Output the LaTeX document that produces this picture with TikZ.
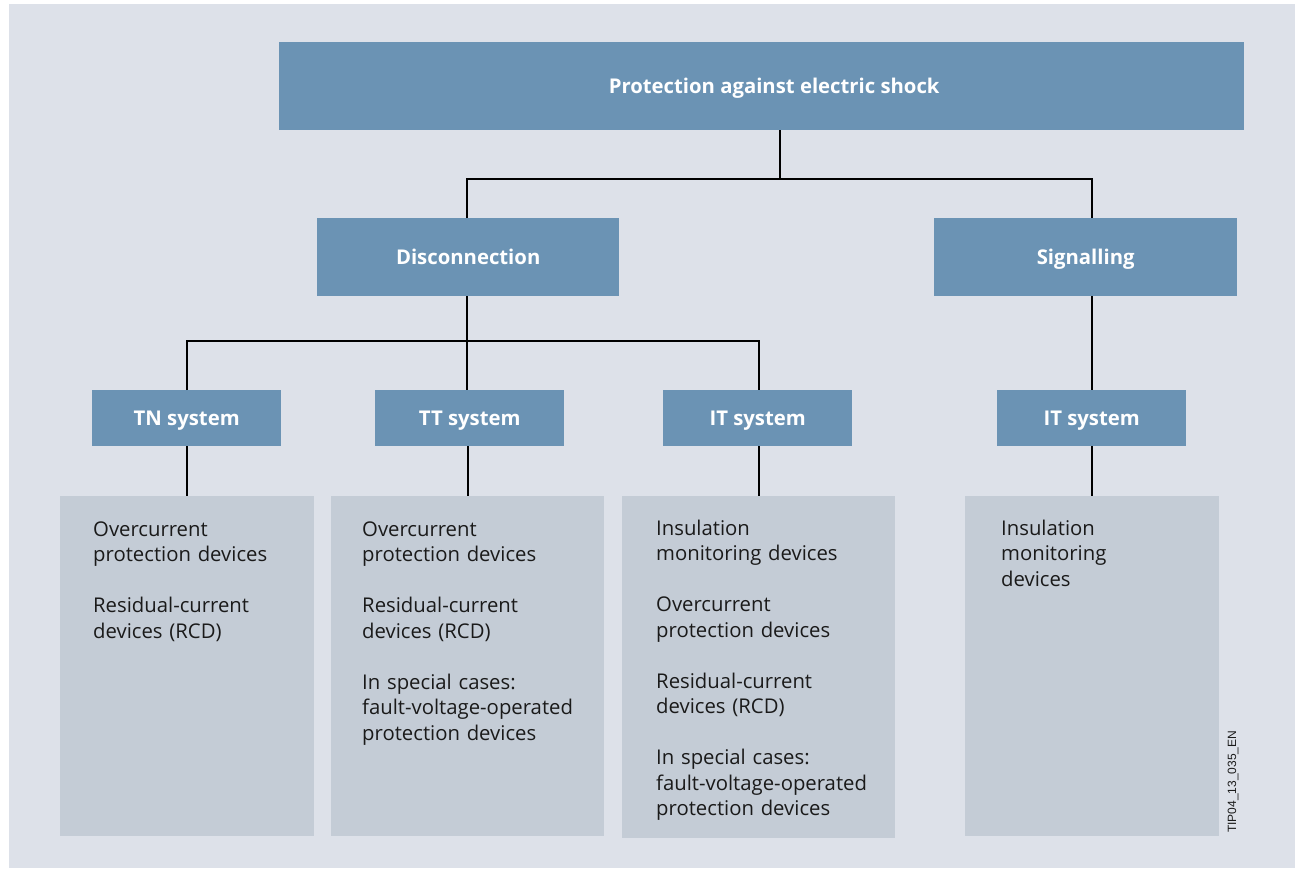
\documentclass[tikz,border=0pt]{standalone}
\usepackage{fontspec}
\setmainfont{Open Sans}
\newfontfamily\tagfont{Liberation Sans}
\definecolor{bg}{RGB}{221,225,233}
\definecolor{hboxc}{RGB}{107,147,180}
\definecolor{cboxc}{RGB}{196,204,214}
\definecolor{txt}{RGB}{26,26,26}
\begin{document}
\begin{tikzpicture}[x=1pt,y=-1pt,
  hdrfont/.style={text=white, font=\bfseries\fontsize{20.3}{24}\selectfont, text height=16pt, text depth=2pt},
  hdr/.style={fill=hboxc, draw=none, inner sep=0, anchor=north west, hdrfont},
  cbox/.style={fill=cboxc, draw=none, inner sep=0, anchor=north west},
  body/.style={anchor=base west, inner sep=0, text width=250pt, align=left, text=txt, font=\fontsize{20.3}{25.5}\selectfont},
  conn/.style={draw=black, line width=1.6pt}]
\useasboundingbox (0,0) rectangle (1295,868);
\fill[white] (0,0) rectangle (1295,868);
\fill[bg] (9,4) rectangle (1295,868);

% header boxes
\node[hdr, minimum width=965pt, minimum height=88pt,
  label={[hdrfont, inner sep=0, xshift=12.5pt]center:Protection against electric shock}] (top) at (279,42) {};
\node[hdr, minimum width=302pt, minimum height=78pt] (disc) at (317,218) {Disconnection};
\node[hdr, minimum width=303pt, minimum height=78pt] (sig) at (934,218) {Signalling};
\node[hdr, minimum width=189pt, minimum height=56pt] (tn) at (92,390) {TN system};
\node[hdr, minimum width=189pt, minimum height=56pt] (tt) at (375,390) {TT system};
\node[hdr, minimum width=189pt, minimum height=56pt] (it) at (663,390) {IT system};
\node[hdr, minimum width=189pt, minimum height=56pt] (it2) at (997,390) {IT system};

% content boxes
\node[cbox, minimum width=254pt, minimum height=340pt] (tnc) at (60,496) {};
\node[cbox, minimum width=273pt, minimum height=340pt] (ttc) at (331,496) {};
\node[cbox, minimum width=273pt, minimum height=342pt] (itc) at (622,496) {};
\node[cbox, minimum width=254pt, minimum height=340pt] (it2c) at (965,496) {};

\node[body] (tnt) at (93,536) {Overcurrent\\protection devices\\[25.5pt]Residual-current\\devices (RCD)};
\node[body] (ttt) at (362,536) {Overcurrent\\protection devices\\[25.5pt]Residual-current\\devices (RCD)\\[25.5pt]In special cases:\\fault-voltage-operated\\protection devices};
\node[body] (itt) at (656,535) {Insulation\\monitoring devices\\[25.5pt]Overcurrent\\protection devices\\[25.5pt]Residual-current\\devices (RCD)\\[25.5pt]In special cases:\\fault-voltage-operated\\protection devices};
\node[body] (it2t) at (1001,535) {Insulation\\monitoring\\devices};

\node[rotate=90, anchor=west, inner sep=0, text=txt, font=\tagfont\fontsize{12}{14}\selectfont] (tag) at (1233,833) {TIP04\_13\_035\_EN};

% connectors
\coordinate (j1) at (780,179);
\coordinate (j2) at (467,341);
\draw[conn] (top.south -| j1) -- (j1);
\draw[conn] (disc.north -| j2) |- (j1) -| (sig.north -| it2.north);
\draw[conn] (disc.south -| j2) -- (j2);
\draw[conn] (tn.north -| tnc.north) -- (tnc.north |- j2) -- (itc.north |- j2) -- (it.north -| itc.north);
\draw[conn] (j2) -- (tt.north -| j2);
\draw[conn] (sig.south -| it2.north) -- (it2.north);
\draw[conn] (tn.south -| tnc.north) -- (tnc.north);
\draw[conn] (tt.south -| ttc.north) -- (ttc.north);
\draw[conn] (it.south -| itc.north) -- (itc.north);
\draw[conn] (it2.south -| it2c.north) -- (it2c.north);
\end{tikzpicture}
\end{document}
